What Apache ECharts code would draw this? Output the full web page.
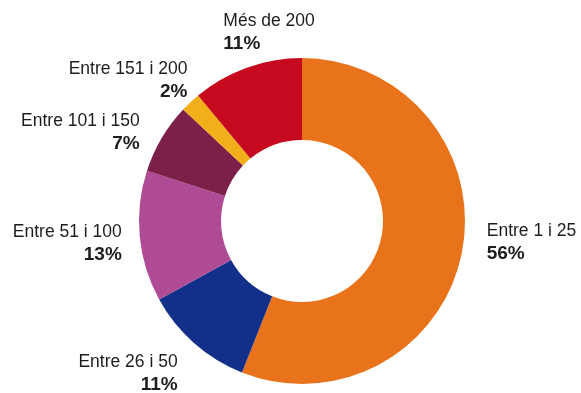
<!DOCTYPE html>
<html>
<head>
<meta charset="utf-8">
<script src="https://cdn.jsdelivr.net/npm/echarts@6/dist/echarts.min.js"></script>
<style>
  html, body { margin: 0; padding: 0; background: #ffffff; }
  #chart { width: 581px; height: 393px; }
</style>
</head>
<body>
<div id="chart"></div>
<script>
// Share of entities by size band (percent)
const categories = ['Entre 1 i 25', 'Entre 26 i 50', 'Entre 51 i 100', 'Entre 101 i 150', 'Entre 151 i 200', 'Més de 200'];
const shares = [56, 11, 13, 7, 2, 11];
const sliceColors = ['#E9731A', '#12308A', '#AF4B95', '#7B2149', '#F2AF1A', '#C6091F'];

// Ring geometry
const CX = 302, CY = 221, R_IN = 81, R_OUT = 163, R_LABEL = 185;
// Fine placement of each label relative to its slice direction
const labelShift = [[3, -13], [-2, 14], [4, 5], [-3, 6], [12, -5], [-16, -14]];
const labelAlignLeft = [true, false, false, false, false, true];

const total = shares.reduce((a, b) => a + b, 0);
const midAngles = [];
let acc = 0;
shares.forEach(v => {
  midAngles.push(((acc + v / 2) / total) * Math.PI * 2);
  acc += v;
});

const chart = echarts.init(document.getElementById('chart'), null, { renderer: 'canvas' });
chart.setOption({
  animation: false,
  backgroundColor: '#ffffff',
  series: [{
    type: 'pie',
    center: [CX, CY],
    radius: [R_IN, R_OUT],
    startAngle: 90,
    clockwise: true,
    avoidLabelOverlap: false,
    silent: true,
    itemStyle: { borderWidth: 0 },
    labelLine: { show: false },
    label: {
      show: true,
      position: 'outside',
      formatter: p => '{n|' + p.name + '}\n{p|' + p.value + '%}',
      rich: {
        n: { fontFamily: 'Liberation Sans, Arial, sans-serif', fontSize: 17.5, color: '#1e1c1d', lineHeight: 22 },
        p: { fontFamily: 'Liberation Sans, Arial, sans-serif', fontSize: 19, fontWeight: 'bold', color: '#1e1c1d', lineHeight: 23 }
      }
    },
    labelLayout: params => {
      const i = params.dataIndex;
      const a = midAngles[i];
      return {
        x: CX + Math.sin(a) * R_LABEL + labelShift[i][0],
        y: CY - Math.cos(a) * R_LABEL + labelShift[i][1],
        align: labelAlignLeft[i] ? 'left' : 'right',
        verticalAlign: 'middle'
      };
    },
    data: categories.map((c, i) => ({
      name: c,
      value: shares[i],
      itemStyle: { color: sliceColors[i] }
    }))
  }]
});
</script>
</body>
</html>
